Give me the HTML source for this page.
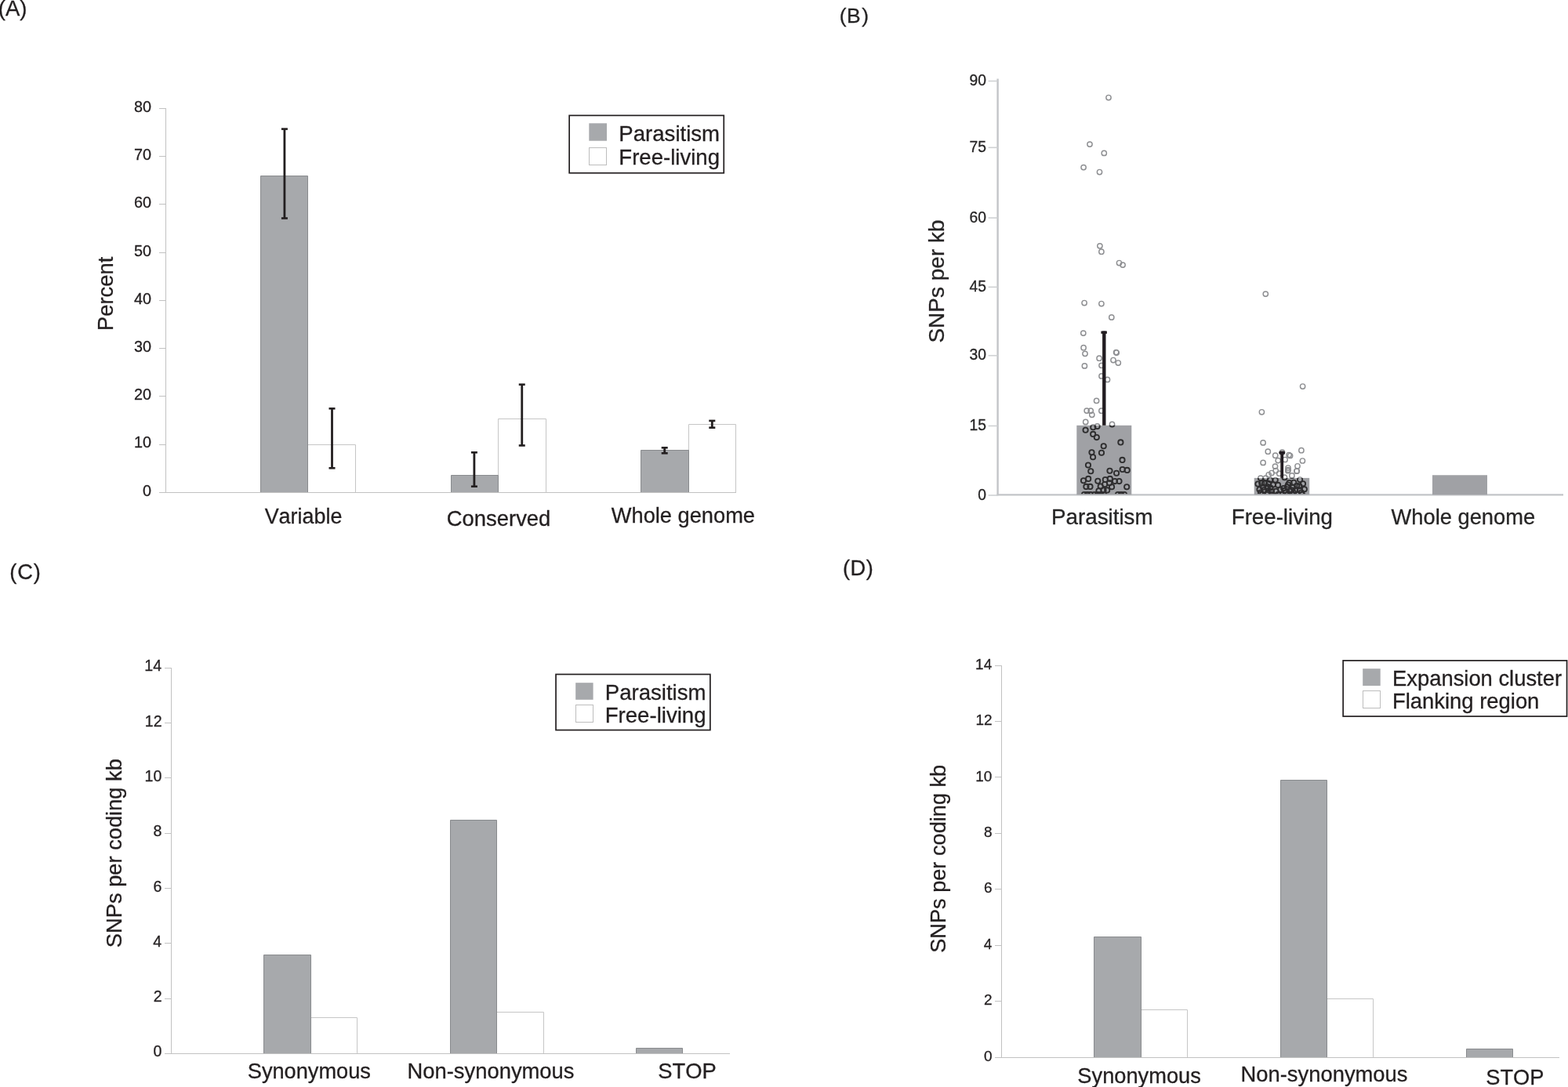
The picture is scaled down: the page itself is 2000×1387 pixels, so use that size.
<!DOCTYPE html>
<html><head><meta charset="utf-8"><title>Figure</title>
<style>
html,body{margin:0;padding:0;background:#fff;}
body{width:2000px;height:1387px;overflow:hidden;}
svg{display:block;}
text{font-family:'Liberation Sans', Arial, Helvetica, sans-serif;font-kerning:none;stroke:#231f20;stroke-width:0.3px;}
</style></head>
<body>
<svg width="2000" height="1387" viewBox="0 0 2000 1387">
<rect x="0" y="0" width="2000" height="1387" fill="#fff"/>
<defs><filter id="soft" x="-5%" y="-5%" width="110%" height="110%"><feGaussianBlur stdDeviation="0.4"/></filter></defs>
<path d="M392.5,628.5V567.5H453.5V628.5" fill="#fff" stroke="#c6c6c6" stroke-width="1"/>
<path d="M635.5,628.5V534.5H696.5V628.5" fill="#fff" stroke="#c6c6c6" stroke-width="1"/>
<path d="M878.5,628.5V541.5H938.5V628.5" fill="#fff" stroke="#c6c6c6" stroke-width="1"/>
<path d="M332.5,628.5V224.5H392.5V628.5" fill="#a7a9ac" stroke="#898b8e" stroke-width="1"/>
<path d="M575.5,628.5V606.5H635.5V628.5" fill="#a7a9ac" stroke="#898b8e" stroke-width="1"/>
<path d="M817.5,628.5V574.5H878.5V628.5" fill="#a7a9ac" stroke="#898b8e" stroke-width="1"/>
<path d="M211.5,138V629" stroke="#c2c2c2" stroke-width="1" fill="none"/>
<path d="M203,628.5H939" stroke="#c2c2c2" stroke-width="1" fill="none"/>
<path d="M203,628.5H211.5" stroke="#c2c2c2" stroke-width="1" fill="none"/>
<path d="M203,567.5H211.5" stroke="#c2c2c2" stroke-width="1" fill="none"/>
<path d="M203,505.5H211.5" stroke="#c2c2c2" stroke-width="1" fill="none"/>
<path d="M203,444.5H211.5" stroke="#c2c2c2" stroke-width="1" fill="none"/>
<path d="M203,383.5H211.5" stroke="#c2c2c2" stroke-width="1" fill="none"/>
<path d="M203,322.5H211.5" stroke="#c2c2c2" stroke-width="1" fill="none"/>
<path d="M203,260.5H211.5" stroke="#c2c2c2" stroke-width="1" fill="none"/>
<path d="M203,199.5H211.5" stroke="#c2c2c2" stroke-width="1" fill="none"/>
<path d="M203,138.5H211.5" stroke="#c2c2c2" stroke-width="1" fill="none"/>
<text transform="translate(182.06,632.70) scale(1,1.01)" font-size="19.80" fill="#231f20" >0</text>
<text transform="translate(171.05,571.46) scale(1,1.01)" font-size="19.80" fill="#231f20" >10</text>
<text transform="translate(171.05,510.22) scale(1,1.01)" font-size="19.80" fill="#231f20" >20</text>
<text transform="translate(171.05,448.99) scale(1,1.01)" font-size="19.80" fill="#231f20" >30</text>
<text transform="translate(171.05,387.75) scale(1,1.01)" font-size="19.80" fill="#231f20" >40</text>
<text transform="translate(171.05,326.51) scale(1,1.01)" font-size="19.80" fill="#231f20" >50</text>
<text transform="translate(171.05,265.27) scale(1,1.01)" font-size="19.80" fill="#231f20" >60</text>
<text transform="translate(171.05,204.04) scale(1,1.01)" font-size="19.80" fill="#231f20" >70</text>
<text transform="translate(171.05,142.80) scale(1,1.01)" font-size="19.80" fill="#231f20" >80</text>
<rect x="361.50" y="164.60" width="2.80" height="113.90" fill="#231f20"/>
<rect x="358.90" y="163.30" width="8.00" height="2.60" fill="#231f20"/>
<rect x="358.90" y="277.20" width="8.00" height="2.60" fill="#231f20"/>
<rect x="422.10" y="521.30" width="2.80" height="76.00" fill="#231f20"/>
<rect x="419.50" y="520.00" width="8.00" height="2.60" fill="#231f20"/>
<rect x="419.50" y="596.00" width="8.00" height="2.60" fill="#231f20"/>
<rect x="603.50" y="577.30" width="2.80" height="43.40" fill="#231f20"/>
<rect x="600.90" y="576.00" width="8.00" height="2.60" fill="#231f20"/>
<rect x="600.90" y="619.40" width="8.00" height="2.60" fill="#231f20"/>
<rect x="664.35" y="490.65" width="2.80" height="77.80" fill="#231f20"/>
<rect x="661.75" y="489.35" width="8.00" height="2.60" fill="#231f20"/>
<rect x="661.75" y="567.15" width="8.00" height="2.60" fill="#231f20"/>
<rect x="846.30" y="571.30" width="2.80" height="7.00" fill="#231f20"/>
<rect x="843.70" y="570.00" width="8.00" height="2.60" fill="#231f20"/>
<rect x="843.70" y="577.00" width="8.00" height="2.60" fill="#231f20"/>
<rect x="906.90" y="536.90" width="2.80" height="8.80" fill="#231f20"/>
<rect x="904.30" y="535.60" width="8.00" height="2.60" fill="#231f20"/>
<rect x="904.30" y="544.40" width="8.00" height="2.60" fill="#231f20"/>
<text transform="translate(337.68,668.40) scale(1,1.01)" font-size="26.91" fill="#231f20" >Variable</text>
<text transform="translate(569.81,670.90) scale(1,1.01)" font-size="27.43" fill="#231f20" >Conserved</text>
<text transform="translate(779.78,666.70) scale(1,1.01)" font-size="27.26" fill="#231f20" >Whole genome</text>
<text transform="translate(143.90,422.05) rotate(-90) scale(1,1.01)" font-size="27.38" fill="#231f20" >Percent</text>
<rect x="726.15" y="147.35" width="197.10" height="73.40" fill="none" stroke="#231f20" stroke-width="1.7"/>
<rect x="751.30" y="157.30" width="22.70" height="22.40" fill="#a7a9ac"/>
<rect x="751.50" y="188.50" width="22.00" height="22.00" fill="#fff" stroke="#bdbdbd" stroke-width="1"/>
<text transform="translate(789.34,179.80) scale(1,1.01)" font-size="27.59" fill="#231f20" >Parasitism</text>
<text transform="translate(789.34,210.30) scale(1,1.01)" font-size="27.58" fill="#231f20" >Free-living</text>
<text x="-2.2" y="19.65" font-size="27.5" fill="#231f20">(A)</text>
<g filter="url(#soft)">
<line x1="1272.60" y1="100.60" x2="1272.60" y2="632.30" stroke="#c3c5c8" stroke-width="2.4" />
<line x1="1271.40" y1="631.30" x2="1994.00" y2="631.30" stroke="#c3c5c8" stroke-width="2.2" />
<line x1="1260.60" y1="103.45" x2="1272.60" y2="103.45" stroke="#cfd1d3" stroke-width="1.6" />
<text transform="translate(1236.49,108.95) scale(1,1.01)" font-size="19.30" fill="#262626" stroke="#262626" stroke-width="0.35">90</text>
<line x1="1260.60" y1="188.30" x2="1272.60" y2="188.30" stroke="#cfd1d3" stroke-width="1.6" />
<text transform="translate(1236.54,193.80) scale(1,1.01)" font-size="19.30" fill="#262626" stroke="#262626" stroke-width="0.35">75</text>
<line x1="1260.60" y1="278.00" x2="1272.60" y2="278.00" stroke="#cfd1d3" stroke-width="1.6" />
<text transform="translate(1236.49,283.50) scale(1,1.01)" font-size="19.30" fill="#262626" stroke="#262626" stroke-width="0.35">60</text>
<line x1="1260.60" y1="366.30" x2="1272.60" y2="366.30" stroke="#cfd1d3" stroke-width="1.6" />
<text transform="translate(1236.54,371.80) scale(1,1.01)" font-size="19.30" fill="#262626" stroke="#262626" stroke-width="0.35">45</text>
<line x1="1260.60" y1="453.70" x2="1272.60" y2="453.70" stroke="#cfd1d3" stroke-width="1.6" />
<text transform="translate(1236.49,459.20) scale(1,1.01)" font-size="19.30" fill="#262626" stroke="#262626" stroke-width="0.35">30</text>
<line x1="1260.60" y1="543.45" x2="1272.60" y2="543.45" stroke="#cfd1d3" stroke-width="1.6" />
<text transform="translate(1236.54,548.95) scale(1,1.01)" font-size="19.30" fill="#262626" stroke="#262626" stroke-width="0.35">15</text>
<line x1="1260.60" y1="632.00" x2="1272.60" y2="632.00" stroke="#cfd1d3" stroke-width="1.6" />
<text transform="translate(1247.22,637.50) scale(1,1.01)" font-size="19.30" fill="#262626" stroke="#262626" stroke-width="0.35">0</text>
<text transform="translate(1203.66,437.57) rotate(-90) scale(1,1.01)" font-size="28.01" fill="#262626" stroke="#262626" stroke-width="0.35">SNPs per kb</text>
<text transform="translate(1341.02,669.00) scale(1,1.01)" font-size="27.77" fill="#262626" stroke="#262626" stroke-width="0.35">Parasitism</text>
<text transform="translate(1570.73,669.30) scale(1,1.01)" font-size="27.69" fill="#262626" stroke="#262626" stroke-width="0.35">Free-living</text>
<text transform="translate(1774.58,669.30) scale(1,1.01)" font-size="27.30" fill="#262626" stroke="#262626" stroke-width="0.35">Whole genome</text>
<text x="1070.8" y="28.5" font-size="26.5" fill="#262626" letter-spacing="0.3" stroke="#262626" stroke-width="0.35">(B<tspan dx="1.4">)</tspan></text>
<rect x="1373.30" y="542.80" width="70.00" height="88.50" fill="#a0a1a5"/>
<rect x="1599.70" y="609.90" width="70.50" height="21.40" fill="#a0a1a5"/>
<rect x="1827.00" y="606.25" width="70.00" height="25.05" fill="#a0a1a5"/>
<defs><clipPath id="plotclip"><rect x="1274" y="90" width="720" height="540.3"/></clipPath><clipPath id="barclip"><rect x="1373.3" y="542.8" width="70" height="87.5"/><rect x="1599.7" y="609.9" width="70.5" height="20.4"/></clipPath></defs>
<g clip-path="url(#plotclip)"><g fill="none" stroke="#8e8f92" stroke-width="1.45"><circle cx="1414.0" cy="124.5" r="3.15"/><circle cx="1390.0" cy="184.1" r="3.15"/><circle cx="1408.3" cy="195.4" r="3.15"/><circle cx="1382.1" cy="213.6" r="3.15"/><circle cx="1402.5" cy="219.5" r="3.15"/><circle cx="1402.9" cy="313.8" r="3.15"/><circle cx="1404.9" cy="321.2" r="3.15"/><circle cx="1427.5" cy="335.5" r="3.15"/><circle cx="1432.1" cy="338.1" r="3.15"/><circle cx="1383.1" cy="386.5" r="3.15"/><circle cx="1404.9" cy="387.5" r="3.15"/><circle cx="1417.8" cy="404.9" r="3.15"/><circle cx="1381.8" cy="425.1" r="3.15"/><circle cx="1382.1" cy="443.7" r="3.15"/><circle cx="1384.0" cy="451.3" r="3.15"/><circle cx="1383.4" cy="466.9" r="3.15"/><circle cx="1402.1" cy="457.2" r="3.15"/><circle cx="1405.0" cy="466.3" r="3.15"/><circle cx="1423.6" cy="449.5" r="3.15"/><circle cx="1424.2" cy="450.0" r="3.15"/><circle cx="1420.0" cy="459.5" r="3.15"/><circle cx="1426.3" cy="463.0" r="3.15"/><circle cx="1405.0" cy="479.9" r="3.15"/><circle cx="1412.5" cy="484.4" r="3.15"/><circle cx="1398.6" cy="511.4" r="3.15"/><circle cx="1386.2" cy="524.1" r="3.15"/><circle cx="1391.2" cy="524.2" r="3.15"/><circle cx="1392.8" cy="529.3" r="3.15"/><circle cx="1404.9" cy="524.2" r="3.15"/><circle cx="1384.7" cy="538.4" r="3.15"/><circle cx="1394.3" cy="545.2" r="3.15"/><circle cx="1399.6" cy="543.9" r="3.15"/><circle cx="1418.5" cy="541.4" r="3.15"/><circle cx="1384.6" cy="548.7" r="3.15"/><circle cx="1394.2" cy="553.9" r="3.15"/><circle cx="1398.8" cy="558.1" r="3.15"/><circle cx="1429.4" cy="564.4" r="3.15"/><circle cx="1407.7" cy="569.2" r="3.15"/><circle cx="1392.5" cy="577.3" r="3.15"/><circle cx="1405.0" cy="577.8" r="3.15"/><circle cx="1394.1" cy="583.3" r="3.15"/><circle cx="1431.5" cy="586.9" r="3.15"/><circle cx="1388.0" cy="593.5" r="3.15"/><circle cx="1391.3" cy="601.2" r="3.15"/><circle cx="1415.5" cy="600.7" r="3.15"/><circle cx="1424.1" cy="603.7" r="3.15"/><circle cx="1431.7" cy="599.0" r="3.15"/><circle cx="1437.7" cy="599.9" r="3.15"/><circle cx="1388.2" cy="610.9" r="3.15"/><circle cx="1382.0" cy="613.3" r="3.15"/><circle cx="1385.4" cy="620.9" r="3.15"/><circle cx="1390.5" cy="620.9" r="3.15"/><circle cx="1400.3" cy="613.7" r="3.15"/><circle cx="1409.8" cy="612.0" r="3.15"/><circle cx="1415.8" cy="610.9" r="3.15"/><circle cx="1422.0" cy="614.1" r="3.15"/><circle cx="1427.5" cy="614.1" r="3.15"/><circle cx="1403.7" cy="620.5" r="3.15"/><circle cx="1409.2" cy="618.0" r="3.15"/><circle cx="1415.1" cy="616.2" r="3.15"/><circle cx="1418.1" cy="621.3" r="3.15"/><circle cx="1437.2" cy="621.3" r="3.15"/><circle cx="1401.5" cy="626.2" r="3.15"/><circle cx="1407.5" cy="625.6" r="3.15"/><circle cx="1412.2" cy="625.4" r="3.15"/><circle cx="1383.0" cy="631.0" r="3.15"/><circle cx="1387.0" cy="631.0" r="3.15"/><circle cx="1391.0" cy="631.0" r="3.15"/><circle cx="1396.0" cy="631.0" r="3.15"/><circle cx="1400.0" cy="631.0" r="3.15"/><circle cx="1404.0" cy="631.0" r="3.15"/><circle cx="1408.0" cy="631.0" r="3.15"/><circle cx="1426.0" cy="631.0" r="3.15"/><circle cx="1430.0" cy="631.0" r="3.15"/><circle cx="1434.0" cy="631.0" r="3.15"/><circle cx="1614.3" cy="375.1" r="3.15"/><circle cx="1661.6" cy="493.0" r="3.15"/><circle cx="1609.4" cy="525.8" r="3.15"/><circle cx="1611.1" cy="564.9" r="3.15"/><circle cx="1617.3" cy="576.2" r="3.15"/><circle cx="1626.7" cy="581.2" r="3.15"/><circle cx="1635.5" cy="577.1" r="3.15"/><circle cx="1644.1" cy="580.5" r="3.15"/><circle cx="1645.6" cy="581.5" r="3.15"/><circle cx="1639.1" cy="586.5" r="3.15"/><circle cx="1630.2" cy="587.6" r="3.15"/><circle cx="1659.9" cy="574.7" r="3.15"/><circle cx="1661.4" cy="588.0" r="3.15"/><circle cx="1611.1" cy="590.4" r="3.15"/><circle cx="1626.5" cy="595.1" r="3.15"/><circle cx="1655.0" cy="594.8" r="3.15"/><circle cx="1643.0" cy="597.0" r="3.15"/><circle cx="1643.0" cy="599.5" r="3.15"/><circle cx="1627.2" cy="600.5" r="3.15"/><circle cx="1622.0" cy="603.5" r="3.15"/><circle cx="1618.2" cy="605.8" r="3.15"/><circle cx="1654.2" cy="600.9" r="3.15"/><circle cx="1647.9" cy="606.9" r="3.15"/><circle cx="1638.5" cy="609.2" r="3.15"/><circle cx="1631.7" cy="604.2" r="3.15"/><circle cx="1642.8" cy="600.7" r="3.15"/><circle cx="1653.9" cy="601.2" r="3.15"/><circle cx="1607.9" cy="610.1" r="3.15"/><circle cx="1614.4" cy="610.1" r="3.15"/><circle cx="1620.1" cy="612.2" r="3.15"/><circle cx="1626.7" cy="612.5" r="3.15"/><circle cx="1609.3" cy="616.6" r="3.15"/><circle cx="1613.0" cy="616.8" r="3.15"/><circle cx="1618.3" cy="617.1" r="3.15"/><circle cx="1623.8" cy="618.5" r="3.15"/><circle cx="1630.1" cy="618.9" r="3.15"/><circle cx="1606.5" cy="624.5" r="3.15"/><circle cx="1611.1" cy="621.7" r="3.15"/><circle cx="1616.5" cy="620.8" r="3.15"/><circle cx="1616.9" cy="623.1" r="3.15"/><circle cx="1612.3" cy="625.4" r="3.15"/><circle cx="1627.5" cy="626.8" r="3.15"/><circle cx="1633.3" cy="624.7" r="3.15"/><circle cx="1637.2" cy="623.0" r="3.15"/><circle cx="1604.5" cy="617.5" r="3.15"/><circle cx="1620.5" cy="622.5" r="3.15"/><circle cx="1622.0" cy="627.0" r="3.15"/><circle cx="1608.0" cy="628.5" r="3.15"/><circle cx="1617.0" cy="628.8" r="3.15"/><circle cx="1658.1" cy="612.0" r="3.15"/><circle cx="1662.0" cy="617.3" r="3.15"/><circle cx="1644.5" cy="616.1" r="3.15"/><circle cx="1650.2" cy="615.7" r="3.15"/><circle cx="1641.7" cy="621.2" r="3.15"/><circle cx="1649.1" cy="621.9" r="3.15"/><circle cx="1657.4" cy="620.3" r="3.15"/><circle cx="1654.1" cy="619.8" r="3.15"/><circle cx="1638.5" cy="626.1" r="3.15"/><circle cx="1645.1" cy="626.5" r="3.15"/><circle cx="1647.2" cy="625.4" r="3.15"/><circle cx="1652.3" cy="625.4" r="3.15"/><circle cx="1657.8" cy="625.4" r="3.15"/><circle cx="1663.8" cy="624.2" r="3.15"/><circle cx="1643.0" cy="618.5" r="3.15"/><circle cx="1640.0" cy="628.5" r="3.15"/><circle cx="1650.0" cy="628.8" r="3.15"/><circle cx="1660.0" cy="628.5" r="3.15"/><circle cx="1610.0" cy="631.0" r="3.15"/><circle cx="1616.0" cy="631.0" r="3.15"/><circle cx="1622.0" cy="631.0" r="3.15"/><circle cx="1630.0" cy="631.0" r="3.15"/><circle cx="1636.0" cy="631.0" r="3.15"/><circle cx="1642.0" cy="631.0" r="3.15"/><circle cx="1648.0" cy="631.0" r="3.15"/><circle cx="1655.0" cy="631.0" r="3.15"/><circle cx="1661.0" cy="631.0" r="3.15"/></g><g clip-path="url(#barclip)" fill="none" stroke="#2e2d2f" stroke-width="1.85"><circle cx="1414.0" cy="124.5" r="3.15"/><circle cx="1390.0" cy="184.1" r="3.15"/><circle cx="1408.3" cy="195.4" r="3.15"/><circle cx="1382.1" cy="213.6" r="3.15"/><circle cx="1402.5" cy="219.5" r="3.15"/><circle cx="1402.9" cy="313.8" r="3.15"/><circle cx="1404.9" cy="321.2" r="3.15"/><circle cx="1427.5" cy="335.5" r="3.15"/><circle cx="1432.1" cy="338.1" r="3.15"/><circle cx="1383.1" cy="386.5" r="3.15"/><circle cx="1404.9" cy="387.5" r="3.15"/><circle cx="1417.8" cy="404.9" r="3.15"/><circle cx="1381.8" cy="425.1" r="3.15"/><circle cx="1382.1" cy="443.7" r="3.15"/><circle cx="1384.0" cy="451.3" r="3.15"/><circle cx="1383.4" cy="466.9" r="3.15"/><circle cx="1402.1" cy="457.2" r="3.15"/><circle cx="1405.0" cy="466.3" r="3.15"/><circle cx="1423.6" cy="449.5" r="3.15"/><circle cx="1424.2" cy="450.0" r="3.15"/><circle cx="1420.0" cy="459.5" r="3.15"/><circle cx="1426.3" cy="463.0" r="3.15"/><circle cx="1405.0" cy="479.9" r="3.15"/><circle cx="1412.5" cy="484.4" r="3.15"/><circle cx="1398.6" cy="511.4" r="3.15"/><circle cx="1386.2" cy="524.1" r="3.15"/><circle cx="1391.2" cy="524.2" r="3.15"/><circle cx="1392.8" cy="529.3" r="3.15"/><circle cx="1404.9" cy="524.2" r="3.15"/><circle cx="1384.7" cy="538.4" r="3.15"/><circle cx="1394.3" cy="545.2" r="3.15"/><circle cx="1399.6" cy="543.9" r="3.15"/><circle cx="1418.5" cy="541.4" r="3.15"/><circle cx="1384.6" cy="548.7" r="3.15"/><circle cx="1394.2" cy="553.9" r="3.15"/><circle cx="1398.8" cy="558.1" r="3.15"/><circle cx="1429.4" cy="564.4" r="3.15"/><circle cx="1407.7" cy="569.2" r="3.15"/><circle cx="1392.5" cy="577.3" r="3.15"/><circle cx="1405.0" cy="577.8" r="3.15"/><circle cx="1394.1" cy="583.3" r="3.15"/><circle cx="1431.5" cy="586.9" r="3.15"/><circle cx="1388.0" cy="593.5" r="3.15"/><circle cx="1391.3" cy="601.2" r="3.15"/><circle cx="1415.5" cy="600.7" r="3.15"/><circle cx="1424.1" cy="603.7" r="3.15"/><circle cx="1431.7" cy="599.0" r="3.15"/><circle cx="1437.7" cy="599.9" r="3.15"/><circle cx="1388.2" cy="610.9" r="3.15"/><circle cx="1382.0" cy="613.3" r="3.15"/><circle cx="1385.4" cy="620.9" r="3.15"/><circle cx="1390.5" cy="620.9" r="3.15"/><circle cx="1400.3" cy="613.7" r="3.15"/><circle cx="1409.8" cy="612.0" r="3.15"/><circle cx="1415.8" cy="610.9" r="3.15"/><circle cx="1422.0" cy="614.1" r="3.15"/><circle cx="1427.5" cy="614.1" r="3.15"/><circle cx="1403.7" cy="620.5" r="3.15"/><circle cx="1409.2" cy="618.0" r="3.15"/><circle cx="1415.1" cy="616.2" r="3.15"/><circle cx="1418.1" cy="621.3" r="3.15"/><circle cx="1437.2" cy="621.3" r="3.15"/><circle cx="1401.5" cy="626.2" r="3.15"/><circle cx="1407.5" cy="625.6" r="3.15"/><circle cx="1412.2" cy="625.4" r="3.15"/><circle cx="1383.0" cy="631.0" r="3.15"/><circle cx="1387.0" cy="631.0" r="3.15"/><circle cx="1391.0" cy="631.0" r="3.15"/><circle cx="1396.0" cy="631.0" r="3.15"/><circle cx="1400.0" cy="631.0" r="3.15"/><circle cx="1404.0" cy="631.0" r="3.15"/><circle cx="1408.0" cy="631.0" r="3.15"/><circle cx="1426.0" cy="631.0" r="3.15"/><circle cx="1430.0" cy="631.0" r="3.15"/><circle cx="1434.0" cy="631.0" r="3.15"/><circle cx="1614.3" cy="375.1" r="3.15"/><circle cx="1661.6" cy="493.0" r="3.15"/><circle cx="1609.4" cy="525.8" r="3.15"/><circle cx="1611.1" cy="564.9" r="3.15"/><circle cx="1617.3" cy="576.2" r="3.15"/><circle cx="1626.7" cy="581.2" r="3.15"/><circle cx="1635.5" cy="577.1" r="3.15"/><circle cx="1644.1" cy="580.5" r="3.15"/><circle cx="1645.6" cy="581.5" r="3.15"/><circle cx="1639.1" cy="586.5" r="3.15"/><circle cx="1630.2" cy="587.6" r="3.15"/><circle cx="1659.9" cy="574.7" r="3.15"/><circle cx="1661.4" cy="588.0" r="3.15"/><circle cx="1611.1" cy="590.4" r="3.15"/><circle cx="1626.5" cy="595.1" r="3.15"/><circle cx="1655.0" cy="594.8" r="3.15"/><circle cx="1643.0" cy="597.0" r="3.15"/><circle cx="1643.0" cy="599.5" r="3.15"/><circle cx="1627.2" cy="600.5" r="3.15"/><circle cx="1622.0" cy="603.5" r="3.15"/><circle cx="1618.2" cy="605.8" r="3.15"/><circle cx="1654.2" cy="600.9" r="3.15"/><circle cx="1647.9" cy="606.9" r="3.15"/><circle cx="1638.5" cy="609.2" r="3.15"/><circle cx="1631.7" cy="604.2" r="3.15"/><circle cx="1642.8" cy="600.7" r="3.15"/><circle cx="1653.9" cy="601.2" r="3.15"/><circle cx="1607.9" cy="610.1" r="3.15"/><circle cx="1614.4" cy="610.1" r="3.15"/><circle cx="1620.1" cy="612.2" r="3.15"/><circle cx="1626.7" cy="612.5" r="3.15"/><circle cx="1609.3" cy="616.6" r="3.15"/><circle cx="1613.0" cy="616.8" r="3.15"/><circle cx="1618.3" cy="617.1" r="3.15"/><circle cx="1623.8" cy="618.5" r="3.15"/><circle cx="1630.1" cy="618.9" r="3.15"/><circle cx="1606.5" cy="624.5" r="3.15"/><circle cx="1611.1" cy="621.7" r="3.15"/><circle cx="1616.5" cy="620.8" r="3.15"/><circle cx="1616.9" cy="623.1" r="3.15"/><circle cx="1612.3" cy="625.4" r="3.15"/><circle cx="1627.5" cy="626.8" r="3.15"/><circle cx="1633.3" cy="624.7" r="3.15"/><circle cx="1637.2" cy="623.0" r="3.15"/><circle cx="1604.5" cy="617.5" r="3.15"/><circle cx="1620.5" cy="622.5" r="3.15"/><circle cx="1622.0" cy="627.0" r="3.15"/><circle cx="1608.0" cy="628.5" r="3.15"/><circle cx="1617.0" cy="628.8" r="3.15"/><circle cx="1658.1" cy="612.0" r="3.15"/><circle cx="1662.0" cy="617.3" r="3.15"/><circle cx="1644.5" cy="616.1" r="3.15"/><circle cx="1650.2" cy="615.7" r="3.15"/><circle cx="1641.7" cy="621.2" r="3.15"/><circle cx="1649.1" cy="621.9" r="3.15"/><circle cx="1657.4" cy="620.3" r="3.15"/><circle cx="1654.1" cy="619.8" r="3.15"/><circle cx="1638.5" cy="626.1" r="3.15"/><circle cx="1645.1" cy="626.5" r="3.15"/><circle cx="1647.2" cy="625.4" r="3.15"/><circle cx="1652.3" cy="625.4" r="3.15"/><circle cx="1657.8" cy="625.4" r="3.15"/><circle cx="1663.8" cy="624.2" r="3.15"/><circle cx="1643.0" cy="618.5" r="3.15"/><circle cx="1640.0" cy="628.5" r="3.15"/><circle cx="1650.0" cy="628.8" r="3.15"/><circle cx="1660.0" cy="628.5" r="3.15"/><circle cx="1610.0" cy="631.0" r="3.15"/><circle cx="1616.0" cy="631.0" r="3.15"/><circle cx="1622.0" cy="631.0" r="3.15"/><circle cx="1630.0" cy="631.0" r="3.15"/><circle cx="1636.0" cy="631.0" r="3.15"/><circle cx="1642.0" cy="631.0" r="3.15"/><circle cx="1648.0" cy="631.0" r="3.15"/><circle cx="1655.0" cy="631.0" r="3.15"/><circle cx="1661.0" cy="631.0" r="3.15"/></g></g>
<rect x="1406.10" y="422.50" width="4.40" height="120.30" fill="#231f20"/>
<rect x="1404.40" y="422.50" width="7.50" height="3.30" fill="#231f20"/>
<rect x="1633.30" y="577.50" width="3.80" height="32.40" fill="#231f20"/>
<rect x="1631.3" y="575.6" width="7.8" height="4.2" rx="1.8" fill="#231f20"/>
</g>
<path d="M396.5,1344.5V1298.5H455.5V1344.5" fill="#fff" stroke="#c6c6c6" stroke-width="1"/>
<path d="M633.5,1344.5V1291.5H693.5V1344.5" fill="#fff" stroke="#c6c6c6" stroke-width="1"/>
<path d="M336.5,1344.5V1218.5H396.5V1344.5" fill="#a7a9ac" stroke="#898b8e" stroke-width="1"/>
<path d="M574.5,1344.5V1046.5H633.5V1344.5" fill="#a7a9ac" stroke="#898b8e" stroke-width="1"/>
<path d="M811.5,1344.5V1337.5H870.5V1344.5" fill="#a7a9ac" stroke="#898b8e" stroke-width="1"/>
<path d="M218.5,852V1345" stroke="#c2c2c2" stroke-width="1" fill="none"/>
<path d="M210,1344.5H931" stroke="#c2c2c2" stroke-width="1" fill="none"/>
<path d="M210,1344.5H218.5" stroke="#c2c2c2" stroke-width="1" fill="none"/>
<path d="M210,1274.5H218.5" stroke="#c2c2c2" stroke-width="1" fill="none"/>
<path d="M210,1203.5H218.5" stroke="#c2c2c2" stroke-width="1" fill="none"/>
<path d="M210,1133.5H218.5" stroke="#c2c2c2" stroke-width="1" fill="none"/>
<path d="M210,1063.5H218.5" stroke="#c2c2c2" stroke-width="1" fill="none"/>
<path d="M210,992.5H218.5" stroke="#c2c2c2" stroke-width="1" fill="none"/>
<path d="M210,922.5H218.5" stroke="#c2c2c2" stroke-width="1" fill="none"/>
<path d="M210,852.5H218.5" stroke="#c2c2c2" stroke-width="1" fill="none"/>
<text transform="translate(195.47,1348.40) scale(1,1.01)" font-size="19.60" fill="#231f20" >0</text>
<text transform="translate(195.69,1278.10) scale(1,1.01)" font-size="19.60" fill="#231f20" >2</text>
<text transform="translate(195.27,1207.80) scale(1,1.01)" font-size="19.60" fill="#231f20" >4</text>
<text transform="translate(195.56,1137.50) scale(1,1.01)" font-size="19.60" fill="#231f20" >6</text>
<text transform="translate(195.55,1067.20) scale(1,1.01)" font-size="19.60" fill="#231f20" >8</text>
<text transform="translate(184.56,996.90) scale(1,1.01)" font-size="19.60" fill="#231f20" >10</text>
<text transform="translate(184.78,926.60) scale(1,1.01)" font-size="19.60" fill="#231f20" >12</text>
<text transform="translate(184.37,856.30) scale(1,1.01)" font-size="19.60" fill="#231f20" >14</text>
<text transform="translate(315.76,1375.80) scale(1,1.01)" font-size="27.20" fill="#231f20" >Synonymous</text>
<text transform="translate(519.55,1375.80) scale(1,1.01)" font-size="27.38" fill="#231f20" >Non-synonymous</text>
<text transform="translate(839.26,1375.80) scale(1,1.01)" font-size="27.40" fill="#231f20" >STOP</text>
<text transform="translate(154.93,1209.14) rotate(-90) scale(1,1.01)" font-size="27.28" fill="#231f20" >SNPs per coding kb</text>
<rect x="709.05" y="860.45" width="196.80" height="71.10" fill="none" stroke="#231f20" stroke-width="1.7"/>
<rect x="734.20" y="871.20" width="22.40" height="21.60" fill="#a7a9ac"/>
<rect x="734.50" y="899.50" width="22.00" height="22.00" fill="#fff" stroke="#bdbdbd" stroke-width="1"/>
<text transform="translate(771.73,892.80) scale(1,1.01)" font-size="27.61" fill="#231f20" >Parasitism</text>
<text transform="translate(771.74,921.80) scale(1,1.01)" font-size="27.60" fill="#231f20" >Free-living</text>
<text x="12.3" y="739.3" font-size="27.3" fill="#231f20" letter-spacing="0.8">(C)</text>
<path d="M1455.5,1349.5V1288.5H1514.5V1349.5" fill="#fff" stroke="#c6c6c6" stroke-width="1"/>
<path d="M1692.5,1349.5V1274.5H1751.5V1349.5" fill="#fff" stroke="#c6c6c6" stroke-width="1"/>
<path d="M1395.5,1349.5V1195.5H1455.5V1349.5" fill="#a7a9ac" stroke="#898b8e" stroke-width="1"/>
<path d="M1633.5,1349.5V995.5H1692.5V1349.5" fill="#a7a9ac" stroke="#898b8e" stroke-width="1"/>
<path d="M1870.5,1349.5V1338.5H1929.5V1349.5" fill="#a7a9ac" stroke="#898b8e" stroke-width="1"/>
<path d="M1277.5,849V1350" stroke="#c2c2c2" stroke-width="1" fill="none"/>
<path d="M1269,1349.5H1989" stroke="#c2c2c2" stroke-width="1" fill="none"/>
<path d="M1269,1349.5H1277.5" stroke="#c2c2c2" stroke-width="1" fill="none"/>
<path d="M1269,1277.5H1277.5" stroke="#c2c2c2" stroke-width="1" fill="none"/>
<path d="M1269,1206.5H1277.5" stroke="#c2c2c2" stroke-width="1" fill="none"/>
<path d="M1269,1134.5H1277.5" stroke="#c2c2c2" stroke-width="1" fill="none"/>
<path d="M1269,1063.5H1277.5" stroke="#c2c2c2" stroke-width="1" fill="none"/>
<path d="M1269,991.5H1277.5" stroke="#c2c2c2" stroke-width="1" fill="none"/>
<path d="M1269,920.5H1277.5" stroke="#c2c2c2" stroke-width="1" fill="none"/>
<path d="M1269,849.5H1277.5" stroke="#c2c2c2" stroke-width="1" fill="none"/>
<text transform="translate(1254.88,1353.80) scale(1,1.01)" font-size="19.00" fill="#231f20" >0</text>
<text transform="translate(1255.09,1282.36) scale(1,1.01)" font-size="19.00" fill="#231f20" >2</text>
<text transform="translate(1254.69,1210.92) scale(1,1.01)" font-size="19.00" fill="#231f20" >4</text>
<text transform="translate(1254.97,1139.48) scale(1,1.01)" font-size="19.00" fill="#231f20" >6</text>
<text transform="translate(1254.96,1068.04) scale(1,1.01)" font-size="19.00" fill="#231f20" >8</text>
<text transform="translate(1244.31,996.60) scale(1,1.01)" font-size="19.00" fill="#231f20" >10</text>
<text transform="translate(1244.52,925.16) scale(1,1.01)" font-size="19.00" fill="#231f20" >12</text>
<text transform="translate(1244.12,853.72) scale(1,1.01)" font-size="19.00" fill="#231f20" >14</text>
<text transform="translate(1374.36,1381.50) scale(1,1.01)" font-size="27.25" fill="#231f20" >Synonymous</text>
<text transform="translate(1582.55,1379.85) scale(1,1.01)" font-size="27.38" fill="#231f20" >Non-synonymous</text>
<text transform="translate(1895.26,1383.80) scale(1,1.01)" font-size="27.24" fill="#231f20" >STOP</text>
<text transform="translate(1205.86,1215.83) rotate(-90) scale(1,1.01)" font-size="27.18" fill="#231f20" >SNPs per coding kb</text>
<rect x="1713.15" y="842.85" width="285.40" height="71.20" fill="none" stroke="#231f20" stroke-width="1.7"/>
<rect x="1738.20" y="853.20" width="22.50" height="21.80" fill="#a7a9ac"/>
<rect x="1738.50" y="881.50" width="22.00" height="22.00" fill="#fff" stroke="#bdbdbd" stroke-width="1"/>
<text transform="translate(1776.05,875.00) scale(1,1.01)" font-size="27.38" fill="#231f20" >Expansion cluster</text>
<text transform="translate(1776.05,903.80) scale(1,1.01)" font-size="27.41" fill="#231f20" >Flanking region</text>
<text x="1075.0" y="733.5" font-size="27.3" fill="#231f20" letter-spacing="0.5">(D)</text>
</svg>
</body></html>
